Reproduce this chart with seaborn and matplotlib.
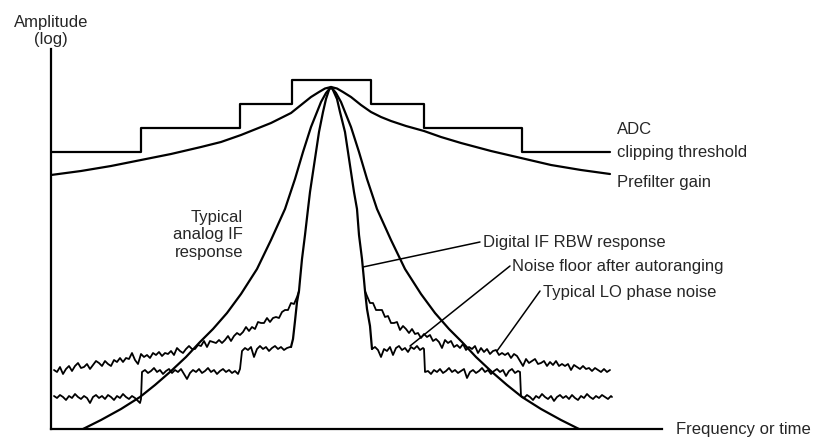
import numpy as np
import pandas as pd
import matplotlib
matplotlib.use("Agg")
import matplotlib.pyplot as plt
import seaborn as sns

# ---------------- data (frequency units, log-amplitude units) ----------------
adc_edges = [0, 90, 189, 241, 320, 373, 471, 559]
adc_levels = [277, 301, 325, 349, 325, 301, 277]

prefilter_x = [0, 30, 60, 90, 120, 150, 170, 190, 205, 220, 230, 240, 250, 260,
               268, 274, 280, 286, 292, 300, 310, 320, 330, 340, 355, 373, 390,
               410, 440, 470, 500, 530, 559]
prefilter_y = [254, 258, 263, 269, 275, 282, 287, 294, 300, 306, 311, 316, 324,
               332, 337, 340.5, 342, 340.5, 337, 332, 324, 317, 312, 308, 303,
               298, 292, 286, 278, 271, 264, 259, 255]

analog_x = [32, 50, 70, 89, 104, 119, 135, 149, 162, 176, 190, 206, 220, 234,
            244, 252, 260, 270, 275, 280, 285, 290, 300, 308, 316, 326, 340,
            354, 370, 384, 398, 411, 425, 441, 456, 471, 490, 510, 528]
analog_y = [0, 9, 20, 32, 44, 57, 72, 87, 100, 116, 135, 160, 189, 220,
            250, 277, 302, 327, 336, 342, 336, 327, 302, 277, 250, 220, 189,
            160, 135, 116, 100, 87, 72, 57, 44, 32, 20, 9, 0]

digital_x = [240, 242, 244, 246, 248, 249, 251, 254, 257, 259, 262, 265, 268,
             272, 275, 278, 280, 282, 286, 289, 294, 297, 300, 303, 306, 308,
             311, 313, 314, 316, 319, 321]
digital_y = [82, 90, 108, 127, 138, 149, 170, 194, 220, 237, 257, 277, 297,
             317, 330, 339, 342, 339, 330, 317, 297, 277, 257, 237, 220, 194,
             170, 149, 138, 120, 103, 80]

lo_left_x = [3, 6, 9, 12, 15, 18, 21, 24, 27, 30, 33, 36, 39, 42, 45, 48, 51,
             54, 57, 60, 63, 66, 69, 72, 75, 78, 81, 84, 87, 90, 93, 96, 99,
             102, 105, 108, 111, 114, 117, 120, 123, 126, 129, 132, 135, 138,
             141, 144, 147, 150, 153, 156, 159, 162, 165, 168, 171, 174, 177,
             180, 183, 186, 189, 192, 195, 198, 201, 204, 207, 210, 213, 216,
             219, 222, 225, 228, 231, 234, 237, 240, 243, 246, 248]
lo_left_y = [59, 57, 62, 55, 60, 63, 58, 63, 66, 61, 62, 65, 60, 64, 68, 66, 63,
             68, 65, 63, 69, 67, 71, 67, 71, 70, 76, 69, 65, 75, 72, 74, 71,
             76, 74, 77, 73, 76, 75, 78, 74, 81, 78, 76, 80, 83,
             80, 80, 84, 83, 88, 82, 88, 87, 86, 89, 86, 89, 93,
             88, 93, 96, 94, 97, 102, 98, 102, 100, 107, 106, 106, 111,
             107, 111, 112, 111, 117, 119, 119, 126, 125, 132, 138]

lo_right_x = [314, 316, 319, 322, 325, 328, 331, 334, 337, 340, 343, 346, 349,
              352, 355, 358, 361, 364, 367, 370, 373, 376, 379, 382, 385, 388,
              391, 394, 397, 400, 403, 406, 409, 412, 415, 418, 421, 424, 427,
              430, 433, 436, 439, 442, 445, 448, 451, 454, 457, 460, 463, 466,
              469, 472, 475, 478, 481, 484, 487, 490, 493, 496, 499, 502, 505,
              508, 511, 514, 517, 520, 523, 526, 529, 532, 535, 538, 541, 544,
              547, 550, 553, 556, 559]
lo_right_y = [138, 133, 126, 126, 119, 119, 119, 112, 113, 106, 106, 107, 99,
              103, 100, 96, 100, 95, 96, 91, 95, 92, 94, 88, 90, 87,
              81, 89, 86, 88, 82, 84, 81, 85, 79, 82, 80, 83, 76,
              81, 77, 80, 75, 78, 79, 74, 76, 74, 76, 71, 75, 73,
              68, 63, 70, 66, 68, 70, 65, 66, 68, 63, 67, 64, 68,
              63, 65, 63, 65, 59, 64, 62, 60, 63, 60, 61, 58, 61,
              59, 57, 60, 57, 59]

nf_left_x = [3, 6, 9, 12, 15, 18, 21, 24, 27, 30, 33, 36, 39, 42, 45, 48, 51,
             54, 57, 60, 63, 66, 69, 72, 75, 78, 81, 84, 87, 89, 90, 91, 94,
             97, 100, 103, 106, 109, 112, 115, 118, 121, 124, 127, 130, 133,
             136, 139, 142, 145, 148, 151, 154, 157, 160, 163, 166, 169, 172,
             175, 178, 181, 184, 187, 189, 191, 194, 197, 200, 203, 206, 209,
             212, 215, 218, 221, 224, 227, 230, 233, 236, 239, 240]
nf_left_y = [33, 31, 34, 32, 29, 33, 31, 35, 32, 30, 33, 31, 26, 32, 34, 31, 33,
             30, 34, 32, 29, 33, 31, 35, 32, 30, 33, 31, 28, 26, 30, 57, 59,
             56, 58, 61, 57, 59, 55, 58, 60, 56, 59, 57, 60, 55,
             50, 56, 59, 57, 60, 56, 58, 61, 57, 59, 55, 58, 60,
             57, 59, 56, 58, 55, 60, 78, 81, 79, 82, 72, 80, 83,
             80, 82, 78, 81, 83, 80, 82, 79, 81, 82, 82]

nf_right_x = [321, 324, 327, 330, 333, 336, 339, 342, 345, 348, 351, 354, 357,
              360, 363, 366, 369, 372, 373, 374, 377, 380, 383, 386, 389, 392,
              395, 398, 401, 404, 407, 410, 413, 416, 419, 422, 425, 428, 431,
              434, 437, 440, 443, 446, 449, 452, 455, 458, 461, 464, 467, 469,
              470, 473, 476, 479, 482, 485, 488, 491, 494, 497, 500, 503, 506,
              509, 512, 515, 518, 521, 524, 527, 530, 533, 536, 539, 542, 545,
              548, 551, 554, 557, 560, 561]
nf_right_y = [80, 82, 79, 72, 80, 78, 82, 74, 81, 83, 79, 81, 77,
              82, 80, 83, 79, 81, 80, 57, 58, 55, 59, 57, 60, 56,
              58, 61, 57, 59, 56, 58, 60, 51, 57, 59, 56, 58, 61,
              57, 59, 55, 58, 60, 57, 59, 53, 58, 60, 56, 58, 57,
              33, 31, 34, 32, 29, 33, 31, 35, 32, 30, 33, 28, 32,
              34, 31, 33, 30, 34, 31, 29, 33, 31, 35, 32, 30, 33,
              31, 34, 32, 30, 33, 32]

# leader lines: (x0, y0, x1, y1)
leader_digital = [312, 162, 429, 187]
leader_noise = [359, 83, 459, 163]
leader_lo = [446, 78, 489, 138]

# ---------------- figure ----------------
sns.set_theme(style="white")
plt.rcParams["font.family"] = ["Liberation Sans", "DejaVu Sans"]

fig = plt.figure(figsize=(8.16, 4.39), dpi=100)
ax = fig.add_axes([51 / 816, 9 / 439, 611 / 816, 380 / 439])
ax.set_xlim(0, 611)
ax.set_ylim(0, 380)

LW = 1.6
kw = dict(color="black", sort=False, estimator=None, legend=False, ax=ax)

# ADC clipping threshold (staircase)
sns.lineplot(x=adc_edges, y=adc_levels + [adc_levels[-1]], drawstyle="steps-post",
             linewidth=LW, **kw)
sns.lineplot(x=prefilter_x, y=prefilter_y, linewidth=LW, **kw)
sns.lineplot(x=analog_x, y=analog_y, linewidth=LW, **kw)
sns.lineplot(x=digital_x, y=digital_y, linewidth=LW, **kw)
for xs, ys in [(lo_left_x, lo_left_y), (lo_right_x, lo_right_y),
               (nf_left_x, nf_left_y), (nf_right_x, nf_right_y)]:
    sns.lineplot(x=xs, y=ys, linewidth=1.3, **kw)

for x0, y0, x1, y1 in [leader_digital, leader_noise, leader_lo]:
    sns.lineplot(x=[x0, x1], y=[y0, y1], linewidth=1.1, **kw)

# axes styling
for s in ["top", "right"]:
    ax.spines[s].set_visible(False)
for s in ["left", "bottom"]:
    ax.spines[s].set_color("black")
    ax.spines[s].set_linewidth(1.6)
ax.set_xticks([])
ax.set_yticks([])
ax.set_xlabel("")
ax.set_ylabel("")

FS = 12
ax.text(0, 399, "Amplitude\n(log)", ha="center", va="center", fontsize=FS,
        linespacing=1.1, clip_on=False)
ax.text(625, 0, "Frequency or time", ha="left", va="center", fontsize=FS, clip_on=False)
ax.text(566, 301, "ADC", ha="left", va="center", fontsize=FS, clip_on=False)
ax.text(566, 277, "clipping threshold", ha="left", va="center", fontsize=FS, clip_on=False)
ax.text(566, 247, "Prefilter gain", ha="left", va="center", fontsize=FS, clip_on=False)
ax.text(192, 195, "Typical\nanalog IF\nresponse", ha="right", va="center",
        multialignment="right", fontsize=FS, linespacing=1.2)
ax.text(432, 187, "Digital IF RBW response", ha="left", va="center", fontsize=FS, clip_on=False)
ax.text(461, 163, "Noise floor after autoranging", ha="left", va="center", fontsize=FS, clip_on=False)
ax.text(492, 138, "Typical LO phase noise", ha="left", va="center", fontsize=FS, clip_on=False)

fig.savefig("out.png", dpi=100)
